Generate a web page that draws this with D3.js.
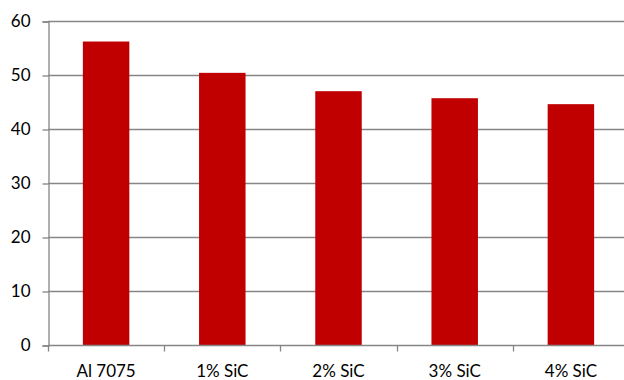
<!DOCTYPE html>
<html>
<head>
<meta charset="utf-8">
<script src="https://cdn.jsdelivr.net/npm/d3@7"></script>
<style>
  html, body { margin: 0; padding: 0; background: #fff; }
  svg { display: block; }
  text { font-family: Lato, "Open Sans", sans-serif; fill: #000; }
</style>
</head>
<body>
<svg id="chart" width="624" height="380"></svg>
<script>
// Data
const categories = ["Al 7075", "1% SiC", "2% SiC", "3% SiC", "4% SiC"];
const values = [56.2, 50.4, 47.0, 45.7, 44.6];
const yTicks = [0, 10, 20, 30, 40, 50, 60];

const svg = d3.select("#chart");
const plotLeft = 48, plotTop = 21, plotBottom = 345, plotRight = 629;

const x = d3.scaleBand()
  .domain(categories)
  .range([plotLeft, plotRight])
  .paddingInner(0.6)
  .paddingOuter(0.3);

const y = d3.scaleLinear().domain([0, 60]).range([plotBottom, plotTop]);

const axisColor = "#868686";

// horizontal gridlines
svg.append("g")
  .selectAll("line")
  .data(yTicks.filter(d => d > 0))
  .join("line")
  .attr("x1", plotLeft)
  .attr("x2", 624)
  .attr("y1", d => Math.round(y(d)) + 0.5)
  .attr("y2", d => Math.round(y(d)) + 0.5)
  .attr("stroke", axisColor)
  .attr("stroke-width", 1.3);

// bars
svg.append("g")
  .selectAll("rect")
  .data(values)
  .join("rect")
  .attr("x", (d, i) => x(categories[i]))
  .attr("width", x.bandwidth())
  .attr("y", d => y(d))
  .attr("height", d => y(0) - y(d))
  .attr("fill", "#C00000");

// y axis
const yAxis = d3.axisLeft(y)
  .tickValues(yTicks)
  .tickSize(6)
  .tickPadding(12)
  .tickFormat(d3.format("d"));

const gy = svg.append("g")
  .attr("transform", `translate(${plotLeft + 0.5},0.5)`)
  .call(yAxis);
gy.select(".domain").attr("stroke", axisColor).attr("stroke-width", 1.3);
gy.selectAll(".tick line").attr("stroke", axisColor).attr("stroke-width", 1.3);
gy.selectAll(".tick text")
  .attr("font-size", 17)
  .attr("font-family", "Lato, 'Open Sans', sans-serif")
  .attr("fill", "#000");

// x axis with ticks at category boundaries
const gx = svg.append("g").attr("transform", `translate(0,${plotBottom + 0.5})`);
gx.append("line")
  .attr("x1", plotLeft).attr("x2", 624)
  .attr("stroke", axisColor).attr("stroke-width", 1.3);

const step = x.step();
const boundary = c => Math.round(x(c) - x.paddingOuter() * step) + 0.5;
gx.selectAll("line.tick")
  .data(categories)
  .join("line")
  .attr("class", "tick")
  .attr("x1", boundary)
  .attr("x2", boundary)
  .attr("y1", 0).attr("y2", 6)
  .attr("stroke", axisColor).attr("stroke-width", 1.3);

gx.selectAll("text")
  .data(categories)
  .join("text")
  .attr("x", c => x(c) + x.bandwidth() / 2)
  .attr("y", 31)
  .attr("text-anchor", "middle")
  .attr("font-size", 17)
  .text(c => c);
</script>
</body>
</html>
